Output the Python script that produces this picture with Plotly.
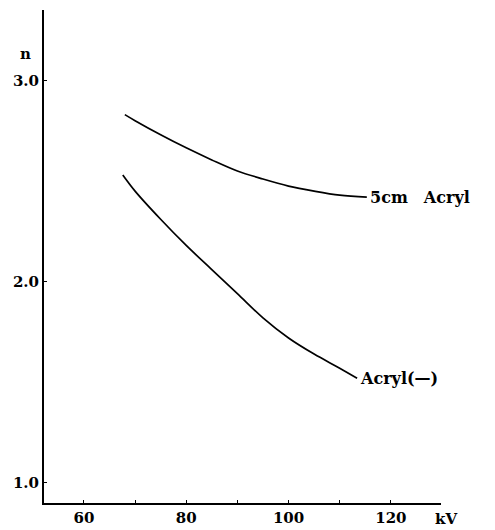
import plotly.graph_objects as go

# Exponent n versus tube voltage, with and without 5 cm acrylic filter
kv_acryl5 = [68, 70, 75, 80, 85, 90, 95, 100, 105, 110, 115.3]
n_acryl5 = [2.83, 2.80, 2.73, 2.665, 2.605, 2.55, 2.51, 2.475, 2.45, 2.43, 2.42]

kv_noacryl = [67.6, 70, 75, 80, 85, 90, 95, 100, 105, 110, 113.4]
n_noacryl = [2.53, 2.45, 2.31, 2.18, 2.06, 1.94, 1.82, 1.72, 1.64, 1.57, 1.52]

x_ticks = [60, 70, 80, 90, 100, 110, 120]
x_tick_text = ["60", "", "80", "", "100", "", "120"]
y_ticks = [1.0, 2.0, 3.0]
y_tick_text = ["1.0", "2.0", "3.0"]

FONT = "DejaVu Serif"
SIZE = 16

fig = go.Figure()
for xs, ys in [(kv_acryl5, n_acryl5), (kv_noacryl, n_noacryl)]:
    fig.add_trace(go.Scatter(x=xs, y=ys, mode="lines", line=dict(color="black", width=1.7, shape="spline"),
                             showlegend=False, hoverinfo="skip"))

label_font = dict(family=FONT, size=SIZE, color="black", weight="bold")
tick_font = dict(family=FONT, size=SIZE - 1, color="black", weight="bold")

fig.add_annotation(x=kv_acryl5[-1], y=n_acryl5[-1], text="5cm\u2003Acryl", showarrow=False,
                   xanchor="left", yanchor="middle", xshift=1, font=label_font)
fig.add_annotation(x=kv_noacryl[-1], y=n_noacryl[-1], text="Acryl(\u2014)", showarrow=False,
                   xanchor="left", yanchor="middle", xshift=1, font=label_font)

fig.add_annotation(xref="paper", yref="paper", x=-0.028, y=0.911, text="n", showarrow=False,
                   xanchor="right", yanchor="middle", font=tick_font)
fig.add_annotation(xref="paper", yref="paper", x=0.98, y=0, yshift=-16, text="kV", showarrow=False,
                   xanchor="left", yanchor="middle", font=tick_font)

fig.update_xaxes(range=[52.2, 129.8], tickvals=x_ticks, ticktext=x_tick_text, ticks="inside", ticklen=3,
                 tickcolor="black", showline=True, linecolor="black", linewidth=2, showgrid=False,
                 zeroline=False, automargin=False, tickfont=tick_font, ticklabelstandoff=0)
fig.update_yaxes(range=[0.90, 3.35], tickvals=y_ticks, ticktext=y_tick_text, ticks="inside", ticklen=3,
                 tickcolor="black", showline=True, linecolor="black", linewidth=2, showgrid=False,
                 zeroline=False, automargin=False, tickfont=tick_font, ticklabelstandoff=0)

fig.update_layout(width=495, height=530, margin=dict(l=44, r=54, t=10, b=27, autoexpand=False),
                  plot_bgcolor="white", paper_bgcolor="white")

fig.write_html("out.html")
